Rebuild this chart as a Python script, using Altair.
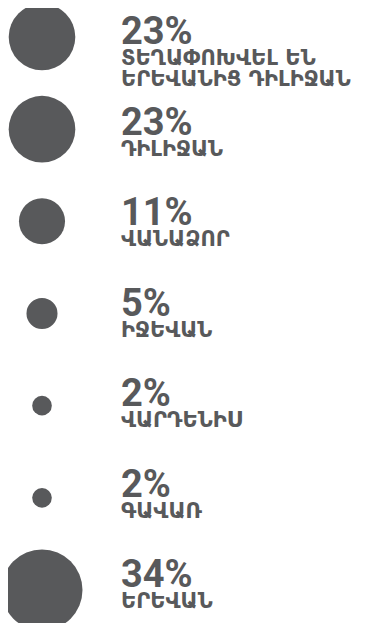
import altair as alt
import pandas as pd

pct = [23, 23, 11, 5, 2, 2, 34]
pct_text = ["23%", "23%", "11%", "5%", "2%", "2%", "34%"]
labels = [
    "ՏԵՂԱՓՈԽՎԵԼ ԵՆ\nԵՐԵՎԱՆԻՑ ԴԻԼԻՋԱՆ",
    "ԴԻԼԻՋԱՆ",
    "ՎԱՆԱՁՈՐ",
    "ԻՋԵՎԱՆ",
    "ՎԱՐԴԵՆԻՍ",
    "ԳԱՎԱՌ",
    "ԵՐԵՎԱՆ",
]
rows = list(range(len(pct)))

df = pd.DataFrame({"row": rows, "pct": pct, "pct_text": pct_text, "label": labels})

COLOR = "#58595b"

base = alt.Chart(df)

circles = base.mark_circle(color=COLOR, opacity=1).encode(
    x=alt.value(34),
    y=alt.Y("row:Q", axis=None, scale=alt.Scale(domain=[0, 6], range=[29, 582])),
    size=alt.Size("pct:Q", legend=None, scale=alt.Scale(type="linear", domain=[0, 34], range=[0, 6561], zero=True)),
)

ytext = alt.Y("row:Q", axis=None, scale=alt.Scale(domain=[0, 6], range=[36, 579]))

pct_layer = base.mark_text(
    color=COLOR, align="left", baseline="alphabetic",
    font="'Liberation Sans Narrow', Roboto, sans-serif",
    fontWeight="bold", fontSize=38,
).encode(x=alt.value(113), y=ytext, text="pct_text:N")

label_layer = base.mark_text(
    color=COLOR, align="left", baseline="alphabetic",
    font="DejaVu Sans", fontWeight="bold", fontSize=21,
    lineBreak="\n", lineHeight=21, dy=21,
).encode(x=alt.value(113), y=ytext, text="label:N")

chart = alt.layer(circles, pct_layer, label_layer).resolve_scale(y="independent").properties(
    width=357, height=615, autosize=alt.AutoSizeParams(type="none"), padding=0
).configure_view(stroke=None)

chart.save("out.html", embed_options={"renderer": "svg", "actions": False})
